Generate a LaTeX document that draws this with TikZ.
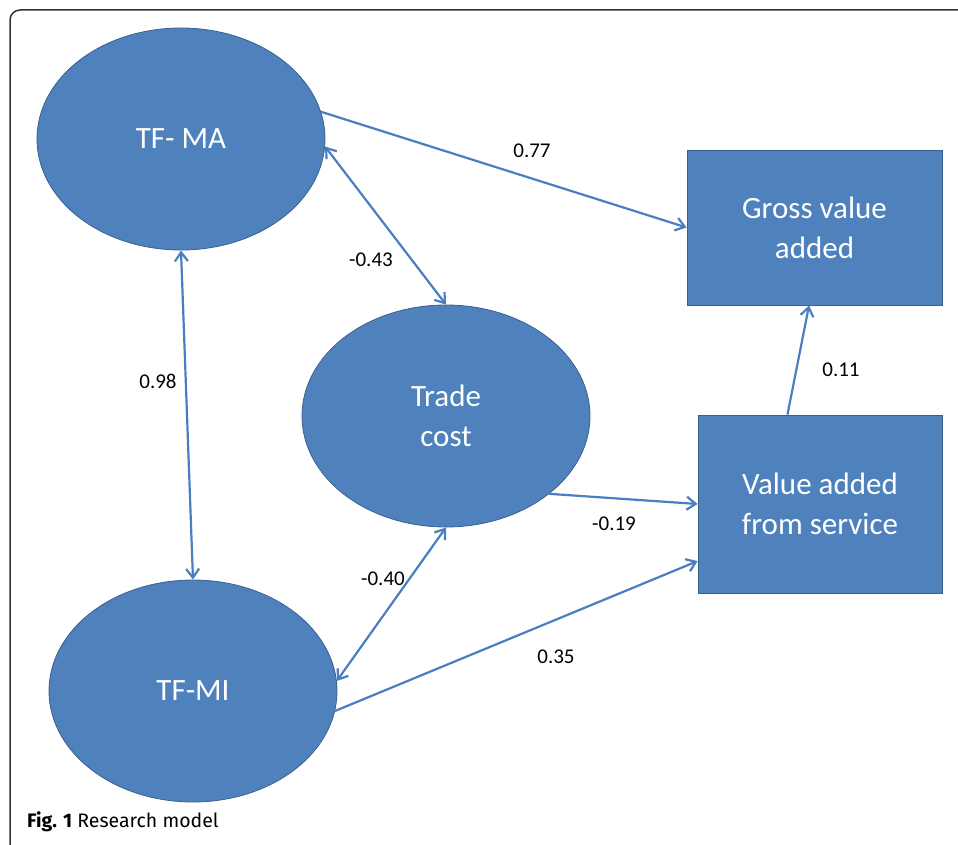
\documentclass[tikz,border=0pt]{standalone}
\usepackage{fontspec}
\setmainfont{Carlito}
\newfontfamily\capfont{Fira Sans}
\usetikzlibrary{shapes.geometric,arrows.meta}
\definecolor{nodefill}{HTML}{4F81BD}
\definecolor{nodeline}{HTML}{3A6090}
\definecolor{arrowcol}{HTML}{4A7EC2}
\definecolor{framecol}{HTML}{333333}
\begin{document}
\begin{tikzpicture}[x=1pt,y=-1pt,
  latent/.style={ellipse, fill=nodefill, draw=nodeline, line width=0.8pt,
    minimum width=288pt, minimum height=222pt, inner sep=0pt, text=white,
    font=\fontsize{31}{40}\selectfont, align=center},
  observed/.style={rectangle, fill=nodefill, draw=nodeline, line width=0.8pt,
    inner sep=0pt, text=white, font=\fontsize{31}{40}\selectfont, align=center},
  onearrow/.style={draw=arrowcol, line width=2.2pt,
    -{Straight Barb[length=9pt,width=13pt]}},
  twoarrow/.style={draw=arrowcol, line width=2.2pt,
    {Straight Barb[length=9pt,width=13pt]}-{Straight Barb[length=9pt,width=13pt]}},
  coef/.style={font=\fontsize{21}{24}\selectfont, text=black, inner sep=0pt}]
\useasboundingbox (0,0) rectangle (958,845);
\draw[framecol, line width=1.5pt, rounded corners=10pt] (958,10) -- (10,10) -- (10,845);

\node[latent] (tfma) at (181,139) {TF- MA};
\node[latent] (tc) at (446,416) {Trade\\cost};
\node[latent] (tfmi) at (193,691) {TF-MI};
\node[observed, minimum width=255pt, minimum height=155pt] (gva) at (814.5,227.5) {Gross value\\added};
\node[observed, minimum width=244pt, minimum height=178pt] (vas) at (820,504) {Value added\\from service};

\draw[onearrow] (tfma.11) -- (gva.west);
\draw[twoarrow] (tfma.-3) -- (tc.north);
\draw[twoarrow] (tfma.south) -- (tfmi.north);
\draw[onearrow] (tc.-37) -- (vas.west);
\draw[twoarrow] (tfmi.4) -- (tc.south);
\draw[onearrow] (tfmi.-8) -- (vas.205.8);
\draw[onearrow] (vas.110.3) -- (gva.-94.8);

\node[coef] (l77) at (532,151) {0.77};
\node[coef] (l43) at (371,260) {-0.43};
\node[coef] (l98) at (158,381) {0.98};
\node[coef] (l19) at (614,524) {-0.19};
\node[coef] (l40) at (383,579) {-0.40};
\node[coef] (l35) at (556,657) {0.35};
\node[coef] (l11) at (841,370) {0.11};

\node[anchor=base west, inner sep=0pt, font=\capfont\fontsize{19.5}{22}\selectfont] (cap) at (27,827) {\textbf{Fig. 1} Research model};
\end{tikzpicture}
\end{document}
